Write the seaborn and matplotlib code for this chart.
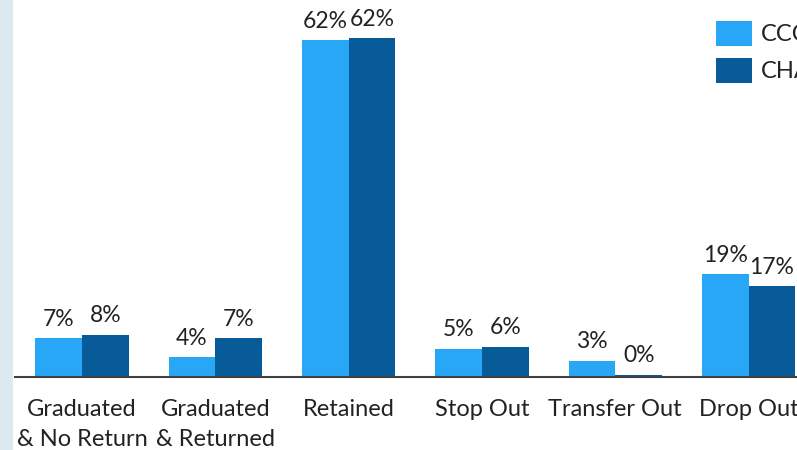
import pandas as pd
import numpy as np
import seaborn as sns
import matplotlib.pyplot as plt
from matplotlib.patches import Rectangle

## Data
outcomes = ["Graduated\n& No Return", "Graduated\n& Returned", "Retained",
            "Stop Out", "Transfer Out", "Drop Out"]
groups = ["CCC", "CHABOT"]
ccc_pct = [7.2, 3.7, 62.0, 5.2, 3.0, 18.9]
cha_pct = [7.8, 7.2, 62.4, 5.6, 0.4, 16.7]
ccc_labels = ["7%", "4%", "62%", "5%", "3%", "19%"]
cha_labels = ["8%", "7%", "62%", "6%", "0%", "17%"]

df = pd.DataFrame({
    "outcome": outcomes * 2,
    "pct": ccc_pct + cha_pct,
    "group": [groups[0]] * len(outcomes) + [groups[1]] * len(outcomes),
})

sns.set_style("white")
plt.rcParams['font.family'] = ['Lato', 'DejaVu Sans']

fig = plt.figure(figsize=(7.97, 4.5), dpi=100)

# light blue strip at the left edge of the slide
fig.patches.append(Rectangle((0, 0), 13 / 797, 1, transform=fig.transFigure,
                             facecolor="#dde9f1", edgecolor="none", zorder=0))

ax = fig.add_axes([15.3 / 797, 73 / 450, 800 / 797, 377 / 450])
ax.patch.set_alpha(0)

sns.barplot(data=df, x="outcome", y="pct", hue="group",
            palette=["#29a7f7", "#075b98"], width=0.7, saturation=1,
            linewidth=0, ax=ax, legend=True)

for cont, labs in zip(ax.containers, [ccc_labels, cha_labels]):
    ax.bar_label(cont, labels=labs, padding=6, fontsize=16.5, color="#222222")

ax.set_ylim(0, 69.4)
ax.set_xlim(-0.5, 5.5)
ax.set_xlabel("")
ax.set_ylabel("")
ax.set_yticks([])
ax.tick_params(axis="x", length=0, pad=16, labelsize=17, labelcolor="#222222")
for t in ax.get_xticklabels():
    t.set_linespacing(1.5)
for s in ["top", "right", "left"]:
    ax.spines[s].set_visible(False)
ax.spines["bottom"].set_color("#404040")
ax.spines["bottom"].set_linewidth(1.5)

handles, labels = ax.get_legend_handles_labels()
ax.legend_.remove()
fig.legend(handles, labels, loc="upper left",
           bbox_to_anchor=(716 / 797, 1 - 21 / 450), bbox_transform=fig.transFigure,
           frameon=False, fontsize=17, borderpad=0, borderaxespad=0,
           handlelength=1.53, handleheight=1.25, labelspacing=0.5,
           handletextpad=0.35, labelcolor="#222222")

fig.savefig("out.png", dpi=100)
